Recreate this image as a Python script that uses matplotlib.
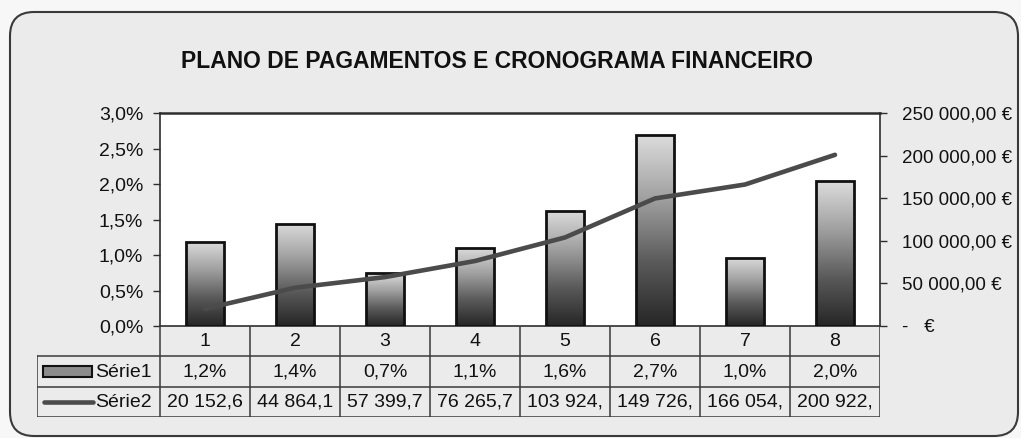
import numpy as np
import matplotlib.pyplot as plt
from matplotlib.patches import FancyBboxPatch, Rectangle
from matplotlib.colors import LinearSegmentedColormap
from matplotlib.lines import Line2D
from matplotlib.transforms import IdentityTransform

plt.rcParams['font.family'] = ['Liberation Sans', 'DejaVu Sans']

# data
categories = ['1', '2', '3', '4', '5', '6', '7', '8']
serie1 = [1.19, 1.44, 0.74, 1.10, 1.62, 2.69, 0.96, 2.04]   # percent
serie2 = [20152.6, 44864.1, 57399.7, 76265.7, 103924.5, 149726.3, 166054.2, 200922.4]  # euro
pct_ticks = [0.0, 0.5, 1.0, 1.5, 2.0, 2.5, 3.0]
eur_ticks = [0, 50000, 100000, 150000, 200000, 250000]
title = 'PLANO DE PAGAMENTOS E CRONOGRAMA FINANCEIRO'
series_names = ['Série1', 'Série2']

W, H = 1021, 438
DARK = '#2e2e2e'
LINE_C = '#4b4b4b'


def box(x0, y0, x1, y1):
    # pixel box (top-left origin) -> figure fraction rect
    return [x0 / W, 1 - y1 / H, (x1 - x0) / W, (y1 - y0) / H]


def pct_fmt(v):
    return f'{v:.1f}%'.replace('.', ',')


def eur_fmt(v):
    if v == 0:
        return '-   €'
    return f'{v:,.2f}'.replace(',', ' ').replace('.', ',') + ' €'


fig = plt.figure(figsize=(W / 100, H / 100), dpi=100)
fig.patch.set_facecolor('#f7f7f7')

# rounded chart frame
frame = FancyBboxPatch((10, H - 436), 1008, 424,
                       boxstyle='round,pad=0,rounding_size=24',
                       transform=IdentityTransform(),
                       fc='#ebebeb', ec='#3a3a3a', lw=1.5, zorder=0)
fig.add_artist(frame)

fig.text(497 / W, 1 - 61 / H, title, ha='center', va='center',
         fontsize=16.5, fontweight='bold', color='#111111')

# main plot
PX0, PX1, PY0, PY1 = 160, 880, 113, 326
ax = fig.add_axes(box(PX0, PY0, PX1, PY1))
ax.set_facecolor('white')
x = np.arange(len(categories))
bw = 0.42

cmap = LinearSegmentedColormap.from_list('bar', ['#dcdcdc', '#a0a0a0', '#5a5a5a', '#262626'])
grad = np.linspace(0, 1, 256).reshape(-1, 1)
bars = ax.bar(x, serie1, width=bw, fc='none', ec='#111111', lw=2, zorder=3)
for b in bars:
    img = ax.imshow(grad, extent=[b.get_x(), b.get_x() + b.get_width(), 0, b.get_height()],
                    origin='upper', aspect='auto', cmap=cmap, zorder=2)
    img.set_clip_path(b)

ax.set_xlim(-0.5, len(categories) - 0.5)
ax.set_ylim(0, 3.0)
ax.set_yticks(pct_ticks)
ax.set_yticklabels([pct_fmt(v) for v in pct_ticks])
ax.tick_params(axis='y', direction='out', length=5, width=1, color=DARK,
               labelsize=14, pad=7, labelcolor='#111111')
ax.tick_params(axis='x', bottom=False, labelbottom=False)
for s in ax.spines.values():
    s.set_color(DARK)
    s.set_linewidth(1.2)
ax.spines['top'].set_linewidth(1.8)

ax2 = ax.twinx()
ax2.plot(x, serie2, color=LINE_C, lw=3.3, solid_joinstyle='round',
         solid_capstyle='round', zorder=4)
ax2.set_ylim(0, 250000)
ax2.set_yticks(eur_ticks)
ax2.set_yticklabels([eur_fmt(v) for v in eur_ticks])
ax2.tick_params(axis='y', direction='out', length=5, width=1, color=DARK,
                labelsize=13.5, pad=11, labelcolor='#111111')
for s in ax2.spines.values():
    s.set_visible(False)

# data table below the plot
LEG_X0 = 37
TY0, TY1 = 326, 417
unit = (PX1 - PX0) / len(categories)
tab = fig.add_axes(box(LEG_X0, TY0, PX1, TY1))
tab.axis('off')
x_leg = -0.5 - (PX0 - LEG_X0) / unit
x_end = len(categories) - 0.5
tab.set_xlim(x_leg, x_end)
tab.set_ylim(3, 0)


def px2x(px):
    return x_leg + (px - LEG_X0) / unit


lk = dict(color='#3a3a3a', lw=1.1)
for i in range(len(categories) + 1):
    tab.plot([i - 0.5, i - 0.5], [0, 3], **lk)
tab.plot([x_leg, x_leg], [1, 3], **lk)
for yy in (1, 2, 3):
    tab.plot([x_leg, x_end], [yy, yy], **lk)

fs = 14
for i, c in enumerate(categories):
    tab.text(i, 0.52, c, ha='center', va='center', fontsize=fs, color='#111111')
    tab.text(i, 1.52, pct_fmt(serie1[i]), ha='center', va='center', fontsize=fs, color='#111111')
    # Excel clips the long numbers to the column width
    s2 = f'{serie2[i]:,.2f}'.replace(',', ' ').replace('.', ',')[:8]
    tab.text(i, 2.52, s2, ha='center', va='center', fontsize=fs, color='#111111')

# legend keys
key = Rectangle((px2x(43), 1.33), px2x(92) - px2x(43), 0.34,
                fc='#8c8c8c', ec='#111111', lw=1.5)
tab.add_patch(key)
tab.add_line(Line2D([px2x(44), px2x(93)], [2.5, 2.5], color=LINE_C, lw=3.3,
                    solid_capstyle='round'))
tab.text(px2x(95), 1.52, series_names[0], ha='left', va='center', fontsize=fs, color='#111111')
tab.text(px2x(95), 2.52, series_names[1], ha='left', va='center', fontsize=fs, color='#111111')

fig.savefig('out.png', dpi=100, facecolor=fig.get_facecolor())
